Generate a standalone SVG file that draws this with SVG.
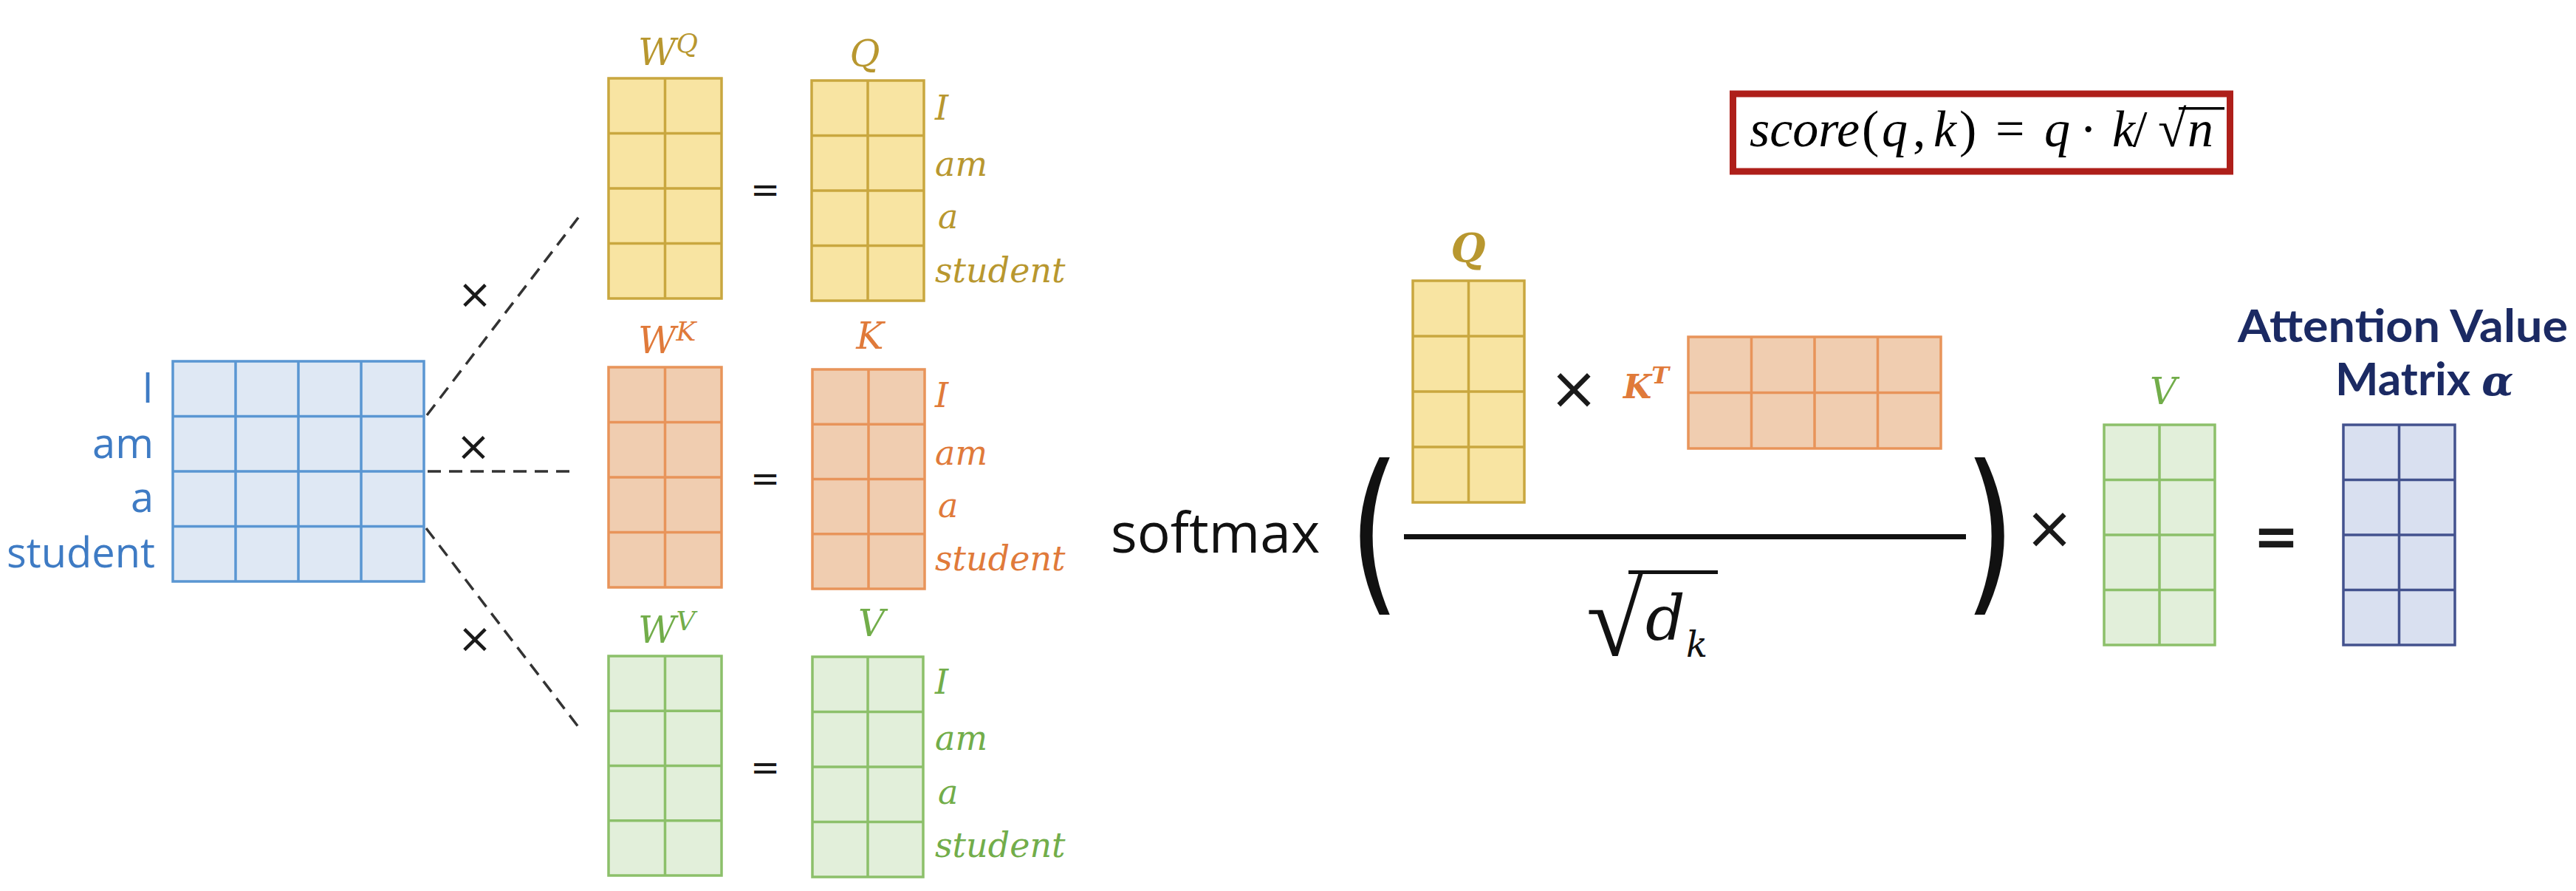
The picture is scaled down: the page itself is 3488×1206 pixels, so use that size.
<svg xmlns="http://www.w3.org/2000/svg" width="3488" height="1206" viewBox="0 0 3488 1206">
<style>
  .gold { fill:#F8E4A2; stroke:#C9A73F; stroke-width:3.5; }
  .gold-g { fill:none; stroke:#C9A73F; stroke-width:3.5; }
  .org { fill:#F0CDB0; stroke:#E8945A; stroke-width:3.5; }
  .org-g { fill:none; stroke:#E8945A; stroke-width:3.5; }
  .grn { fill:#E2EFDA; stroke:#8CC06A; stroke-width:3.5; }
  .grn-g { fill:none; stroke:#8CC06A; stroke-width:3.5; }
  .blu { fill:#DFE8F4; stroke:#5A96D2; stroke-width:3.5; }
  .blu-g { fill:none; stroke:#5A96D2; stroke-width:3.5; }
  .nav { fill:#D9E0F0; stroke:#43528E; stroke-width:3.5; }
  .nav-g { fill:none; stroke:#43528E; stroke-width:3.5; }
  .lbl { font-family:"DejaVu Serif", serif; font-style:italic; }
  .row { font-family:"DejaVu Serif", serif; font-style:italic; font-size:46px; }
  .t-gold { fill:#B8972F; }
  .t-org { fill:#E07A3A; }
  .t-grn { fill:#72AD4A; }
  .word { font-family:"Open Sans", "Noto Sans", sans-serif; font-size:56px; fill:#3E7BC4; text-anchor:end; }
  .sym { font-family:"DejaVu Sans", sans-serif; fill:#1a1a1a; text-anchor:middle; dominant-baseline:central; }
  .dash { stroke:#333; stroke-width:3.5; stroke-dasharray:18 11; fill:none; }
  .math { font-family:"Liberation Serif", "Times New Roman", serif; font-size:70px; fill:#000; }
  .navy { font-family:Lato, "Open Sans", sans-serif; font-weight:bold; font-size:62px; fill:#1B2A63; }
</style>
<defs>
  <clipPath id="boxclip"><rect x="2351" y="131.5" width="664" height="96"/></clipPath>
</defs>

<g id="connectors">
  <line class="dash" x1="578" y1="562" x2="785" y2="292"/>
  <line class="dash" x1="579" y1="638" x2="781" y2="638"/>
  <line class="dash" x1="577" y1="715" x2="784" y2="985"/>
</g>

<g id="input-matrix">
  <rect class="blu" x="234" y="489" width="340" height="298"/>
  <path class="blu-g" d="M319 489V787M404 489V787M489 489V787M234 563.5H574M234 638H574M234 712.5H574"/>
  <text class="word" x="208" y="545">I</text>
  <text class="word" x="208" y="620">am</text>
  <text class="word" x="208" y="693">a</text>
  <text class="word" x="210" y="768">student</text>
</g>

<g id="times-signs">
  <text class="sym" x="643" y="397" font-size="56">×</text>
  <text class="sym" x="641" y="603" font-size="56">×</text>
  <text class="sym" x="643" y="863" font-size="56">×</text>
</g>

<g id="wq">
  <text class="lbl t-gold" x="864" y="88" font-size="50">W<tspan font-size="36" dy="-17">Q</tspan></text>
  <rect class="gold" x="824" y="106" width="153" height="298"/>
  <path class="gold-g" d="M900.5 106V404M824 180.5H977M824 255H977M824 329.5H977"/>
</g>
<text class="sym" x="1036" y="256" font-size="48">=</text>
<g id="q">
  <text class="lbl t-gold" x="1171" y="90" font-size="50" text-anchor="middle">Q</text>
  <rect class="gold" x="1099" y="109" width="152" height="298"/>
  <path class="gold-g" d="M1175 109V407M1099 183.5H1251M1099 258H1251M1099 332.5H1251"/>
  <text class="row t-gold" x="1266" y="162">I</text>
  <text class="row t-gold" x="1266" y="238">am</text>
  <text class="row t-gold" x="1270" y="309">a</text>
  <text class="row t-gold" x="1266" y="382">student</text>
</g>

<g id="wk">
  <text class="lbl t-org" x="864" y="478" font-size="50">W<tspan font-size="36" dy="-17">K</tspan></text>
  <rect class="org" x="824" y="497" width="153" height="298"/>
  <path class="org-g" d="M900.5 497V795M824 571.5H977M824 646H977M824 720.5H977"/>
</g>
<text class="sym" x="1036" y="647" font-size="48">=</text>
<g id="k">
  <text class="lbl t-org" x="1178" y="472" font-size="50" text-anchor="middle">K</text>
  <rect class="org" x="1100" y="500" width="152" height="297"/>
  <path class="org-g" d="M1176 500V797M1100 574.25H1252M1100 648.5H1252M1100 722.75H1252"/>
  <text class="row t-org" x="1266" y="551">I</text>
  <text class="row t-org" x="1266" y="629">am</text>
  <text class="row t-org" x="1270" y="700">a</text>
  <text class="row t-org" x="1266" y="772">student</text>
</g>

<g id="wv">
  <text class="lbl t-grn" x="864" y="870" font-size="50">W<tspan font-size="36" dy="-17">V</tspan></text>
  <rect class="grn" x="824" y="888" width="153" height="297"/>
  <path class="grn-g" d="M900.5 888V1185M824 962.25H977M824 1036.5H977M824 1110.75H977"/>
</g>
<text class="sym" x="1036" y="1038" font-size="48">=</text>
<g id="v">
  <text class="lbl t-grn" x="1180" y="861" font-size="50" text-anchor="middle">V</text>
  <rect class="grn" x="1100" y="889" width="150" height="298"/>
  <path class="grn-g" d="M1175 889V1187M1100 963.5H1250M1100 1038H1250M1100 1112.5H1250"/>
  <text class="row t-grn" x="1266" y="939">I</text>
  <text class="row t-grn" x="1266" y="1015">am</text>
  <text class="row t-grn" x="1270" y="1088">a</text>
  <text class="row t-grn" x="1266" y="1160">student</text>
</g>

<g id="formula-box">
  <rect x="2346.5" y="127" width="673" height="105" fill="#fff" stroke="#AE1F1A" stroke-width="9"/>
  <g clip-path="url(#boxclip)">
    <text class="math" y="198"><tspan x="2369" font-style="italic">score</tspan><tspan x="2521">(</tspan><tspan x="2548" font-style="italic">q</tspan><tspan x="2590">,</tspan><tspan x="2618" font-style="italic">k</tspan><tspan x="2653">)</tspan><tspan x="2702">=</tspan><tspan x="2768" font-style="italic">q</tspan><tspan x="2816">·</tspan><tspan x="2860" font-style="italic">k</tspan><tspan x="2888">/</tspan><tspan x="2922">√</tspan><tspan x="2962" font-style="italic">n</tspan></text>
    <rect x="2950" y="145" width="62" height="3.5" fill="#000"/>
  </g>
</g>

<g id="softmax-expr">
  <text x="1504" y="748" font-family="'Open Sans', 'Noto Sans', sans-serif" font-size="75" fill="#111">softmax</text>
  <text transform="translate(1861,801) scale(1,1.33)" font-family="'DejaVu Sans', sans-serif" font-size="180" text-anchor="middle" fill="#111">(</text>
  <text transform="translate(2694,801) scale(1,1.33)" font-family="'DejaVu Sans', sans-serif" font-size="180" text-anchor="middle" fill="#111">)</text>
  <rect x="1901" y="723" width="761" height="7" fill="#111"/>
  <text x="2148" y="887" font-family="'Liberation Serif', serif" font-size="140" fill="#111">√</text>
  <rect x="2205" y="772" width="121" height="5" fill="#111"/>
  <text x="2228" y="866" class="lbl" font-size="84" fill="#111">d</text>
  <text x="2283" y="889" class="lbl" font-size="48" fill="#111">k</text>
  <text class="sym" x="2131" y="525" font-size="80">×</text>
  <text class="sym" x="2775" y="714" font-size="80">×</text>
  <text class="sym" x="3082" y="726" font-size="74" font-weight="bold">=</text>
</g>

<g id="q2">
  <text x="1988" y="355" font-family="'DejaVu Serif', serif" font-style="italic" font-weight="bold" font-size="54" text-anchor="middle" class="t-gold">Q</text>
  <rect class="gold" x="1913" y="380" width="151" height="300"/>
  <path class="gold-g" d="M1988.5 380V680M1913 455H2064M1913 530H2064M1913 605H2064"/>
</g>

<g id="kt">
  <text x="2198" y="539" font-family="'DejaVu Serif', serif" font-style="italic" font-weight="bold" font-size="44" class="t-org">K<tspan font-size="32" dy="-20">T</tspan></text>
  <rect class="org" x="2286" y="456" width="342" height="151"/>
  <path class="org-g" d="M2371.5 456V607M2457 456V607M2542.5 456V607M2286 531.5H2628"/>
</g>

<g id="v2">
  <text class="lbl t-grn" x="2929" y="547" font-size="50" text-anchor="middle">V</text>
  <rect class="grn" x="2849" y="575" width="150" height="298"/>
  <path class="grn-g" d="M2924 575V873M2849 649.5H2999M2849 724H2999M2849 798.5H2999"/>
</g>

<g id="attention">
  <text class="navy" x="3030" y="463" textLength="447" lengthAdjust="spacingAndGlyphs">Attention Value</text>
  <text class="navy" x="3162" y="535">Matrix <tspan font-family="'DejaVu Serif', serif" font-style="italic" font-size="56">α</tspan></text>
  <rect class="nav" x="3173" y="575" width="151" height="298"/>
  <path class="nav-g" d="M3248.5 575V873M3173 649.5H3324M3173 724H3324M3173 798.5H3324"/>
</g>
</svg>
